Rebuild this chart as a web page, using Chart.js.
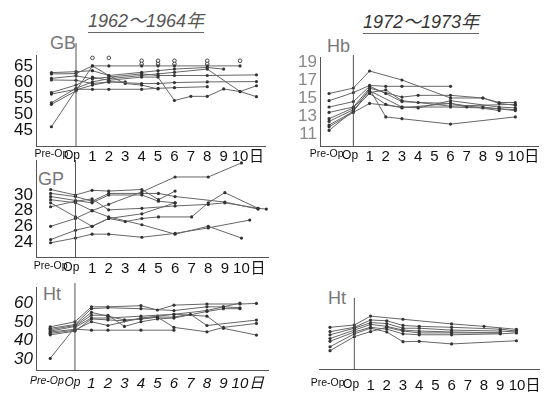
<!DOCTYPE html>
<html>
<head>
<meta charset="utf-8">
<script src="https://cdn.jsdelivr.net/npm/chart.js@4"></script>
<style>
  body { margin: 0; background: #fff; }
  #page { position: relative; width: 549px; height: 395px; overflow: hidden; background: #fff; }
  canvas { position: absolute; }
  .txt { position: absolute; white-space: nowrap; line-height: 1; }
  .head { font-family: 'Liberation Sans', 'Noto Sans CJK JP', sans-serif;
          font-size: 18px; color: #555; font-style: italic; border-bottom: 1px solid #666; padding-bottom: 2px; }
  .name { font-family: 'Liberation Sans', 'Noto Sans', sans-serif; font-size: 18px; color: #777; }
</style>
</head>
<body>
<div id="page">
  <div class="txt head" style="left:88px; top:12px;">1962～1964年</div>
  <div class="txt head" style="left:363px; top:13px; color:#333;">1972～1973年</div>
  <div class="txt name" style="left:50px; top:34px;">GB</div>
  <div class="txt name" style="left:327px; top:37px;">Hb</div>
  <div class="txt name" style="left:38px; top:170px;">GP</div>
  <div class="txt name" style="left:43px; top:285px;">Ht</div>
  <div class="txt name" style="left:328px; top:289px;">Ht</div>
  <canvas id="gb" width="280" height="140" style="left:0; top:30px;"></canvas>
  <canvas id="hb" width="269" height="140" style="left:280px; top:30px;"></canvas>
  <canvas id="gp" width="280" height="140" style="left:0; top:140px;"></canvas>
  <canvas id="htL" width="280" height="125" style="left:0; top:270px;"></canvas>
  <canvas id="htR" width="269" height="125" style="left:280px; top:270px;"></canvas>
</div>
<script>
// days after operation, Pre-Op sits left of 0
const gbDays = [-1.5, 0, 1, 2, 3, 4, 5, 6, 7, 8, 9, 10, 11];
const gbSeries = [
  [62.5, 62.6, 65.0, 65.0, null, 65.0, 65.0, 65.0, null, 65.0, null, 65.0, null],
  [62.9, 63.2, 63.5, 62.0, null, 63.0, 63.5, 64.0, null, 64.5, 64.0, null, null],
  [61.1, 61.9, 61.0, 61.5, null, 62.5, 62.0, 62.0, null, 62.0, null, null, 62.2],
  [60.6, 60.5, 59.5, 60.0, null, 59.5, 59.5, 59.8, null, 60.0, null, null, 60.1],
  [56.7, 59.0, 61.5, 60.5, null, 61.5, 61.5, 54.2, 55.5, 55.5, 57.8, 57.0, 58.8],
  [56.2, 57.7, 57.7, 57.7, null, 57.7, 58.0, 58.2, null, 58.5, null, null, null],
  [53.5, 58.0, 60.0, 61.0, null, 62.0, 62.5, 63.0, null, 64.0, null, 57.0, 55.4],
  [53.0, 57.2, 65.0, 62.0, 59.5, 59.0, 57.8, null, null, null, null, null, null],
  [46.0, 57.5, 59.0, 60.0, 60.0, null, null, null, null, null, null, null, null]
];
const gbMarkDays = [1, 2, 4, 4, 5, 5, 6, 6, 8, 8, 10];
const gbMarks = [67.5, 67.5, 66.6, 65.6, 66.6, 65.6, 66.6, 65.6, 66.6, 65.6, 66.6];
const gbYTicks = [45, 50, 55, 60, 65];

const hbDays = [-1.5, 0, 1, 2, 3, 4, 5, 6, 7, 8, 9, 10];
const hbSeries = [
  [15.5, 16.1, 18.0, null, 17.0, null, null, 15.0, null, 15.0, 14.5, 14.5],
  [14.7, 15.6, 16.4, 16.3, 16.3, null, null, 16.3, null, null, null, null],
  [14.0, 14.6, 16.3, 15.5, 14.6, 14.5, null, 14.4, 14.0, 14.0, 13.8, 13.6],
  [13.4, 14.0, 16.1, null, 15.1, 15.3, null, 15.3, null, 15.0, 14.4, 14.2],
  [12.7, 13.9, 15.8, null, 14.0, 13.9, null, 14.7, null, null, 14.0, 13.9],
  [12.4, 13.7, 15.5, 14.3, 13.9, null, null, 14.4, null, null, 13.6, null],
  [12.0, 13.5, 16.0, 12.9, 12.7, null, null, 12.1, null, null, null, 12.9],
  [11.8, 13.4, 14.4, null, 14.0, null, null, 14.0, null, 13.9, 13.8, 13.7],
  [11.4, 13.6, 15.6, 15.9, 14.7, null, null, 14.1, null, null, null, 14.3]
];
const hbYTicks = [11, 13, 15, 17, 19];

const gpDays = [-1.5, 0, 1, 2, 3, 4, 5, 6, 7, 8, 9, 10, 10.5, 11, 11.5];
const gpSeries = [
  [26.0, 27.0, 28.0, 28.8, null, 30.4, null, 32.3, null, 32.3, null, 34.1, null, null, null],
  [24.3, 25.5, 26.0, 27.0, 26.6, 27.0, 27.2, null, 27.2, 29.0, 30.3, null, null, 28.3, 28.2],
  [23.9, 24.5, 25.0, 25.0, null, 24.6, null, 25.1, null, 25.8, null, null, 26.8, null, null],
  [30.7, 30.0, 30.6, 30.5, null, 30.7, 29.4, 30.5, null, null, null, null, null, null, null],
  [30.2, 29.8, 29.2, 30.2, null, 30.2, 30.2, 29.8, null, null, 29.1, null, null, 28.2, null],
  [29.4, 29.0, 28.0, 27.2, null, 26.2, null, 25.0, null, 26.0, null, 24.5, null, null, null],
  [28.5, 29.2, 29.5, 28.1, null, 28.3, null, 28.6, null, 28.8, 29.0, null, null, 28.3, null],
  [29.0, 27.2, 26.0, 27.0, null, 27.6, null, 29.0, null, null, null, null, null, null, null],
  [29.8, 29.3, 29.0, 30.0, null, 30.0, 29.2, 29.0, null, null, null, null, null, null, null]
];
const gpYTicks = [24, 26, 28, 30];

const htDays = [-1.5, 0, 1, 2, 3, 4, 5, 6, 7, 8, 9, 10, 11];
const htSeries = [
  [30.4, 47.0, 52.0, 52.0, null, 53.0, null, 54.0, null, 56.0, 58.0, 60.0, null],
  [47.3, 50.0, 58.0, 58.0, null, 58.6, 56.3, 58.9, null, 59.5, null, 59.5, 59.8],
  [46.5, 48.5, 57.0, 57.5, null, 57.0, null, 56.0, null, 58.0, 58.0, 57.5, null],
  [45.8, 48.0, 55.0, 53.0, 51.0, 51.5, 52.5, 52.5, 54.0, 48.0, null, null, 50.9],
  [45.0, 47.5, 53.5, 53.5, 47.5, 50.0, 51.5, 52.0, null, 55.5, 57.0, 57.0, null],
  [44.5, 46.0, 45.5, 45.5, null, 45.5, null, 45.5, null, null, null, null, null],
  [43.8, 45.5, 50.0, 48.0, null, 52.0, 53.0, 54.0, null, 53.0, 46.5, null, 42.9],
  [43.0, 45.0, 51.5, 51.0, 50.5, 51.5, 52.5, 47.0, null, 44.6, 47.0, null, 49.1]
];
const htYTicks = [30, 40, 50, 60];

const ht2Days = [-1.5, 0, 1, 2, 3, 4, 5, 6, 7, 8, 9, 10];
const ht2Series = [
  [47.0, 48.2, 53.0, null, 51.3, null, null, 48.8, null, 47.5, null, 45.9],
  [44.7, 47.0, 50.9, 50.5, 48.0, 47.5, null, 47.0, null, null, 46.0, 45.0],
  [43.0, 46.5, 49.5, 49.0, 46.5, 46.5, null, 45.5, null, null, 45.0, 44.5],
  [41.0, 45.5, 48.5, 47.5, 45.5, 45.0, null, 44.5, null, null, 44.0, null],
  [39.5, 44.5, 47.0, 46.0, 43.5, 43.0, null, 43.0, null, null, 43.5, 44.0],
  [36.6, 43.5, 46.5, 44.5, 39.3, 39.5, null, 38.1, null, null, null, 39.8],
  [34.5, 42.0, 44.7, 47.0, 45.0, 44.0, null, 44.0, null, null, 44.0, null]
];

// x tick labels
const dayLabels = ['Pre-Op', 'Op', '1', '2', '3', '4', '5', '6', '7', '8', '9', '10', '日'];
const leftTickVals = [-1.5, -0.25, 1, 2, 3, 4, 5, 6, 7, 8, 9, 10, 11];
const htTickVals = [-1.7, -0.15, 1, 2, 3, 4, 5, 6, 7, 8, 9, 10, 11];
const rightLabels = ['Pre-Op', 'Op', '1', '2', '3', '4', '5', '6', '7', '8', '9', '10日'];
const rightTickVals = [-1.65, -0.2, 1, 2, 3, 4, 5, 6, 7, 8, 9, 10.5];

const FONT = "'Liberation Sans', Arimo, 'Noto Sans CJK JP', sans-serif";

// vertical line at the operation day
const opLine = {
  id: 'opLine',
  afterDatasetsDraw(chart, args, opts) {
    const x = chart.scales.x.getPixelForValue(0);
    const c = chart.ctx;
    c.save();
    c.strokeStyle = '#555';
    c.lineWidth = 1;
    c.beginPath();
    c.moveTo(x, chart.chartArea.top - (opts.rise || 0));
    c.lineTo(x, chart.chartArea.bottom);
    c.stroke();
    c.restore();
  }
};

function tickFont(italic) {
  return ctx => ({
    family: FONT,
    size: ctx.index === 0 ? 10.5 : (ctx.index === 1 ? 12 : 15),
    style: italic ? 'italic' : 'normal'
  });
}

function panel(id, days, series, yTicks, xVals, xLabels, p) {
  const datasets = series.map(vals => ({
    data: vals.map((v, i) => ({ x: days[i], y: v })),
    borderColor: '#666',
    borderWidth: 1,
    pointRadius: 1.6,
    pointBackgroundColor: '#333',
    pointBorderWidth: 0,
    spanGaps: true,
    tension: 0,
    clip: false
  }));
  if (p.extra) datasets.push(p.extra);

  new Chart(document.getElementById(id), {
    type: 'line',
    data: { datasets },
    options: {
      responsive: false,
      animation: false,
      layout: { padding: { left: 0, right: p.right, top: p.top, bottom: 0 } },
      plugins: { legend: { display: false }, tooltip: { enabled: false }, opLine: { rise: p.rise } },
      scales: {
        x: {
          type: 'linear', min: p.xMin, max: p.xMax,
          grid: { display: false, drawTicks: false },
          border: { color: '#555', width: 1 },
          ticks: {
            autoSkip: false, maxRotation: 0, minRotation: 0, padding: p.xPad,
            color: '#111',
            font: tickFont(p.italic),
            callback: (v, i) => xLabels[i]
          },
          afterBuildTicks: s => { s.ticks = xVals.map(v => ({ value: v })); },
          afterFit: s => { s.height = p.xH; }
        },
        y: {
          min: p.yMin, max: p.yMax,
          grid: { display: false, drawTicks: false },
          border: { display: p.yAxis, color: '#555', width: 1 },
          ticks: {
            display: yTicks.length > 0, autoSkip: false, padding: 3, color: p.yColor,
            font: { family: FONT, size: 17, style: p.italic ? 'italic' : 'normal' }
          },
          afterBuildTicks: s => { s.ticks = yTicks.map(v => ({ value: v })); },
          afterFit: s => { s.width = p.yW; }
        }
      }
    },
    plugins: [opLine]
  });
}

const gbMarkSet = {
  data: gbMarks.map((v, i) => ({ x: gbMarkDays[i], y: v })),
  showLine: false, pointRadius: 1.8, pointBackgroundColor: '#fff',
  pointBorderColor: '#444', pointBorderWidth: 1, clip: false
};

panel('gb', gbDays, gbSeries, gbYTicks, leftTickVals, dayLabels,
  { xMin: -2.44, xMax: 11.52, yMin: 40, yMax: 68.4, yW: 36, xH: 24, top: 25, right: 15, rise: 12, xPad: 2, yColor: '#111', yAxis: true, extra: gbMarkSet });
panel('hb', hbDays, hbSeries, hbYTicks, rightTickVals, rightLabels,
  { xMin: -2.06, xMax: 11.4, yMin: 9.67, yMax: 19.5, yW: 40, xH: 24, top: 27.5, right: 11, rise: 2.5, xPad: 2, yColor: '#888', yAxis: true });
panel('gp', gpDays, gpSeries, gpYTicks, leftTickVals, dayLabels,
  { xMin: -2.38, xMax: 11.6, yMin: 22.08, yMax: 34.47, yW: 36, xH: 23, top: 20, right: 12, rise: 0, xPad: 3, yColor: '#111', yAxis: true });
panel('htL', htDays, htSeries, htYTicks, htTickVals, dayLabels,
  { xMin: -2.36, xMax: 11.7, yMin: 24.2, yMax: 68.6, yW: 36, xH: 25, top: 17, right: 12, rise: 4, xPad: 5, yColor: '#111', yAxis: true, italic: true });
panel('htR', ht2Days, ht2Series, [], rightTickVals, rightLabels,
  { xMin: -2.18, xMax: 11.4, yMin: 24.7, yMax: 61.6, yW: 39, xH: 26, top: 30, right: 9, rise: 2, xPad: 8, yColor: '#111', yAxis: false });
</script>
</body>
</html>
